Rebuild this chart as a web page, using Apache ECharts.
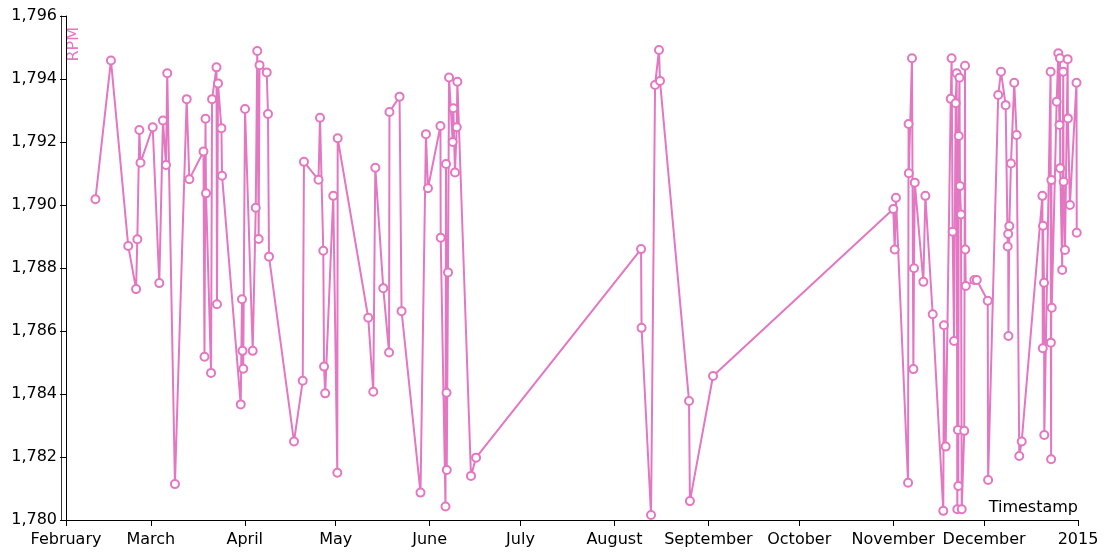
<!DOCTYPE html>
<html>
<head>
<meta charset="utf-8">
<script src="https://cdn.jsdelivr.net/npm/echarts@6/dist/echarts.min.js"></script>
<style>
html,body{margin:0;padding:0;background:#fff;}
#chart{width:1108px;height:557px;}
</style>
</head>
<body>
<div id="chart"></div>
<script>
var timestamps = [
'2014-02-10 17:00','2014-02-15 20:00','2014-02-21 13:00','2014-02-24 03:00','2014-02-24 13:00',
'2014-02-25 05:00','2014-02-25 14:00','2014-03-01 15:00','2014-03-03 19:00','2014-03-05 00:00',
'2014-03-06 00:00','2014-03-06 10:00','2014-03-08 23:00','2014-03-12 20:00','2014-03-13 17:00',
'2014-03-18 09:00','2014-03-18 17:00','2014-03-19 01:00','2014-03-19 05:00','2014-03-20 21:00',
'2014-03-21 05:00','2014-03-22 16:00','2014-03-22 20:00','2014-03-23 04:00','2014-03-24 07:00',
'2014-03-24 12:00','2014-03-30 16:00','2014-03-31 02:00','2014-03-31 06:00','2014-03-31 12:00',
'2014-04-01 02:00','2014-04-03 15:00','2014-04-04 15:00','2014-04-05 03:00','2014-04-05 14:00',
'2014-04-05 21:00','2014-04-08 06:00','2014-04-08 16:00','2014-04-09 00:00','2014-04-17 06:00',
'2014-04-20 03:00','2014-04-20 13:00','2014-04-25 08:00','2014-04-25 20:00','2014-04-26 22:00',
'2014-04-27 04:00','2014-04-27 13:00','2014-04-30 05:00','2014-05-01 13:00','2014-05-01 16:00',
'2014-05-11 18:00','2014-05-13 10:00','2014-05-14 02:00','2014-05-16 17:00','2014-05-18 15:00',
'2014-05-18 18:00','2014-05-22 02:00','2014-05-22 18:00','2014-05-29 00:00','2014-05-30 19:00',
'2014-05-31 11:00','2014-06-04 14:00','2014-06-04 16:00','2014-06-06 06:00','2014-06-06 10:00',
'2014-06-06 14:00','2014-06-06 16:00','2014-06-07 02:00','2014-06-07 10:00','2014-06-08 15:00',
'2014-06-08 20:00','2014-06-09 09:00','2014-06-09 23:00','2014-06-10 04:00','2014-06-14 16:00',
'2014-06-16 08:00','2014-08-09 19:00','2014-08-09 23:00','2014-08-13 02:00','2014-08-14 10:00',
'2014-08-15 17:00','2014-08-16 01:00','2014-08-25 15:00','2014-08-25 22:00','2014-09-02 13:00',
'2014-11-01 01:00','2014-11-01 12:00','2014-11-01 22:00','2014-11-05 22:00','2014-11-06 02:00',
'2014-11-06 04:00','2014-11-07 05:00','2014-11-07 16:00','2014-11-07 21:00','2014-11-08 03:00',
'2014-11-10 23:00','2014-11-11 15:00','2014-11-14 01:00','2014-11-17 13:00','2014-11-17 18:00',
'2014-11-18 08:00','2014-11-20 00:00','2014-11-20 07:00','2014-11-20 15:00','2014-11-21 02:00',
'2014-11-21 15:00','2014-11-21 23:00','2014-11-22 04:00','2014-11-22 09:00','2014-11-22 12:00',
'2014-11-22 15:00','2014-11-22 21:00','2014-11-23 01:00','2014-11-23 09:00','2014-11-23 15:00',
'2014-11-24 11:00','2014-11-24 17:00','2014-11-24 19:00','2014-11-24 23:00','2014-11-27 19:00',
'2014-11-28 14:00','2014-12-02 05:00','2014-12-02 08:00','2014-12-05 16:00','2014-12-06 14:00',
'2014-12-08 03:00','2014-12-08 19:00','2014-12-08 23:00','2014-12-09 01:00','2014-12-09 08:00',
'2014-12-09 21:00','2014-12-10 23:00','2014-12-11 18:00','2014-12-12 15:00','2014-12-13 10:00',
'2014-12-20 06:00','2014-12-20 09:00','2014-12-20 11:00','2014-12-20 19:00','2014-12-20 21:00',
'2014-12-22 23:00','2014-12-23 01:00','2014-12-23 03:00','2014-12-23 05:00','2014-12-23 08:00',
'2014-12-24 23:00','2014-12-25 12:00','2014-12-25 21:00','2014-12-26 01:00','2014-12-26 03:00',
'2014-12-26 19:00','2014-12-27 03:00','2014-12-27 06:00','2014-12-27 17:00','2014-12-28 14:00',
'2014-12-28 16:00','2014-12-29 08:00','2014-12-31 12:00','2014-12-31 14:00'
];
var rpm = [
1790.18,1794.59,1788.70,1787.33,1788.91,
1792.38,1791.34,1792.47,1787.52,1792.68,
1791.27,1794.18,1781.14,1793.36,1790.82,
1791.70,1785.18,1792.74,1790.37,1784.67,
1793.36,1794.37,1786.85,1793.86,1792.44,
1790.93,1783.67,1787.01,1785.37,1784.80,
1793.05,1785.37,1789.91,1794.89,1788.92,
1794.44,1794.21,1792.89,1788.36,1782.49,
1784.42,1791.37,1790.80,1792.77,1788.55,
1784.87,1784.02,1790.29,1781.50,1792.12,
1786.42,1784.07,1791.18,1787.36,1785.32,
1792.95,1793.44,1786.63,1780.87,1792.25,
1790.53,1792.51,1788.96,1780.43,1791.30,
1784.04,1781.59,1787.86,1794.05,1792.00,
1793.07,1791.03,1792.47,1793.91,1781.40,
1781.98,1788.60,1786.10,1780.16,1793.81,
1794.92,1793.94,1783.78,1780.60,1784.57,
1789.87,1788.59,1790.23,1781.18,1792.57,
1791.01,1794.66,1784.79,1787.99,1790.71,
1787.56,1790.29,1786.53,1780.29,1786.18,
1782.33,1793.37,1794.66,1789.15,1785.68,
1793.23,1794.18,1780.34,1782.86,1781.08,
1792.19,1794.04,1790.60,1789.70,1780.34,
1782.83,1794.42,1788.59,1787.43,1787.62,
1787.62,1786.96,1781.27,1793.49,1794.23,
1793.17,1788.68,1789.08,1785.84,1789.33,
1791.32,1793.88,1792.22,1782.03,1782.49,
1790.29,1785.45,1789.34,1787.53,1782.70,
1794.23,1785.63,1781.93,1790.79,1786.74,
1793.28,1794.82,1792.54,1794.66,1791.17,
1787.94,1794.23,1790.74,1788.57,1794.63,
1792.75,1790.00,1793.88,1789.12
];
var monthTicks = ['2014-02-01','2014-03-01','2014-04-01','2014-05-01','2014-06-01','2014-07-01',
  '2014-08-01','2014-09-01','2014-10-01','2014-11-01','2014-12-01','2015-01-01'];
var tickLabels = ['February','March','April','May','June','July','August','September',
  'October','November','December','2015'];

var pink = '#e377c2';
var FONT = 'DejaVu Sans';
function ts(s){ var p = s.split(/[- :]/); return Date.UTC(+p[0], +p[1]-1, +p[2], +(p[3]||0), +(p[4]||0)); }
var tickTimes = monthTicks.map(ts);
var labelMap = {};
tickTimes.forEach(function(t,i){ labelMap[t] = tickLabels[i]; });
var data = timestamps.map(function(t,i){ return [ts(t), rpm[i]]; });

var chart = echarts.init(document.getElementById('chart'), null, {renderer:'canvas'});
chart.setOption({
  animation: false,
  backgroundColor: '#fff',
  grid: {left: 66, right: 30, top: 16, bottom: 37, containLabel: false},
  xAxis: {
    type: 'value',
    min: tickTimes[0],
    max: tickTimes[tickTimes.length-1],
    axisLine: {show: true, lineStyle: {color: '#000', width: 1}},
    axisTick: {show: true, length: 6, lineStyle: {color: '#000'}, customValues: tickTimes},
    axisLabel: {
      customValues: tickTimes,
      margin: 12,
      color: '#000',
      fontFamily: FONT,
      fontSize: 16,
      formatter: function(v){ return labelMap[v] !== undefined ? labelMap[v] : ''; }
    },
    splitLine: {show: false}
  },
  yAxis: [{
    type: 'value',
    min: 1780, max: 1796, interval: 2,
    axisLine: {show: true, lineStyle: {color: '#000', width: 1}},
    axisTick: {show: true, length: 6, lineStyle: {color: '#000'}},
    axisLabel: {
      margin: 9, color: '#000', fontFamily: FONT, fontSize: 16,
      formatter: function(v){ return v.toLocaleString('en-US'); }
    },
    splitLine: {show: false}
  }, {
    type: 'value',
    position: 'left',
    offset: 5,
    min: 1780, max: 1796, interval: 2,
    axisLine: {show: true, lineStyle: {color: '#333', width: 1}},
    axisTick: {show: false},
    axisLabel: {show: false},
    splitLine: {show: false}
  }],
  graphic: [
    {type: 'text', left: 66, top: 27, rotation: Math.PI/2,
      style: {text: 'RPM', fill: pink, font: '16px "DejaVu Sans"'}},
    {type: 'text', right: 30, top: 500,
      style: {text: 'Timestamp', fill: '#000', font: '16px "DejaVu Sans"'}}
  ],
  series: [{
    type: 'line',
    yAxisIndex: 0,
    data: data,
    symbol: 'emptyCircle',
    symbolSize: 8,
    showAllSymbol: true,
    lineStyle: {color: pink, width: 2},
    itemStyle: {color: pink, borderColor: pink, borderWidth: 2},
    emphasis: {disabled: true}
  }]
});
</script>
</body>
</html>
